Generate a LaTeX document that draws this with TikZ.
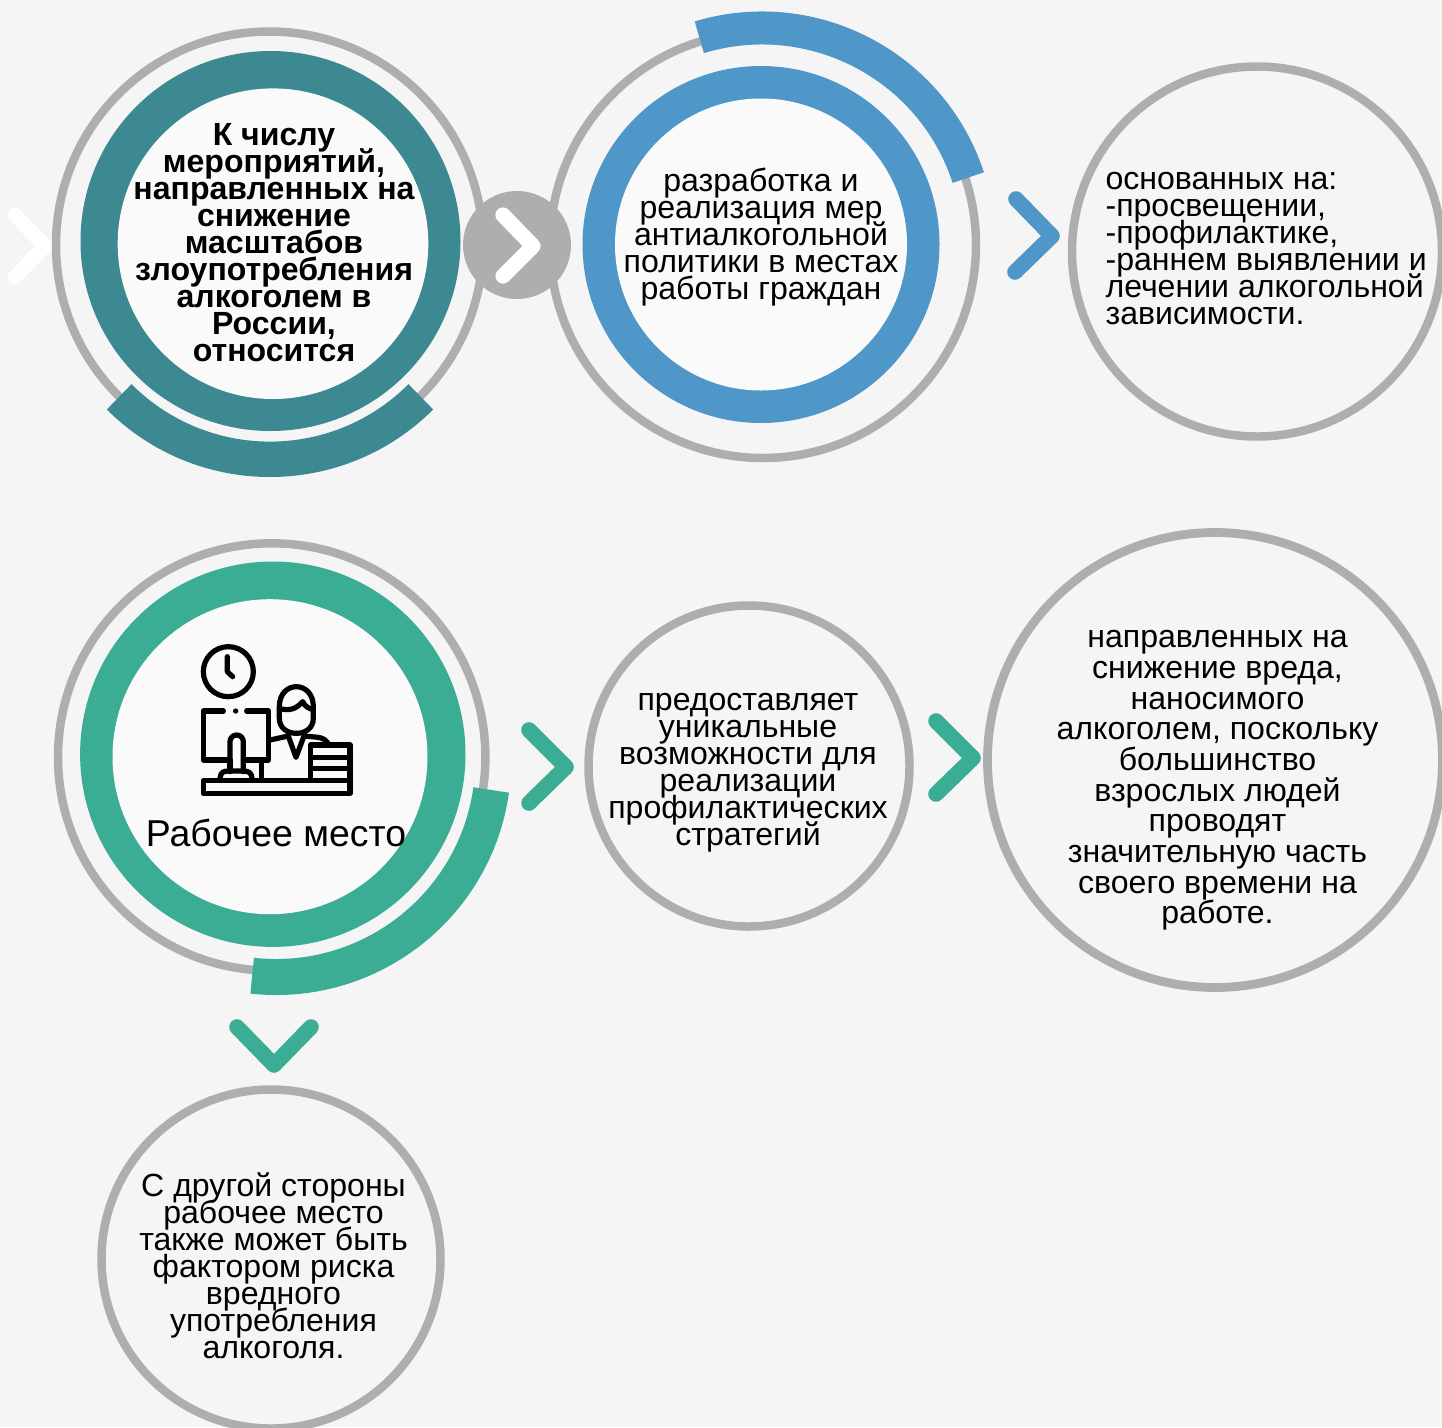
\documentclass[tikz,border=0pt]{standalone}
\usepackage{fontspec}
\setmainfont{Liberation Sans}
\setlength{\lineskiplimit}{-20pt}
\definecolor{bggray}{HTML}{F5F5F5}
\definecolor{inner}{HTML}{FAFAFA}
\definecolor{ringgray}{HTML}{ADAEB0}
\definecolor{teal1}{HTML}{3C8992}
\definecolor{blue1}{HTML}{4E97C8}
\definecolor{green1}{HTML}{3BAD94}
\tikzset{
  halo/.style={draw=ringgray,line width=0.106cm},
  chev/.style={line width=0.195cm,line cap=round,line join=round},
  sweep/.style={line width=#1*0.0125cm},
  say/.style={align=center,inner sep=0pt,font=\fontsize{11.4}{9.6}\selectfont},
  icon/.style={draw=black,line width=0.065cm,line join=round,line cap=round},
}
\begin{document}
\begin{tikzpicture}[x=0.0125cm,y=-0.0125cm]
  \path[use as bounding box,clip] (0,0) rectangle (1442,1427);
  \fill[bggray] (0,0) rectangle (1442,1427);

  %% Top row
  \draw[white,chev,line width=0.18cm] (15,215) -- (45,246) -- (15,277);
  \draw[halo] (269.5,245) circle (213.5);
  \fill[teal1] (270.5,241) circle (190);
  \fill[inner] (273,243.7) circle (155.3);
  \draw[teal1,sweep=35.4] (270,246)+(135:213.3) arc (135:45:213.3);
  \node[say,font=\fontsize{11.4}{9.6}\selectfont\bfseries] (reduce) at (274,243)
    {К числу\\мероприятий,\\направленных на\\снижение\\масштабов\\злоупотребления\\алкоголем в\\России,\\относится};

  \draw[halo] (763,245) circle (213);
  \fill[blue1] (761,244.5) circle (178.5);
  \fill[inner] (761,244.5) circle (146);
  \draw[blue1,sweep=33] (762,245)+(-106.8:217) arc (-106.8:-18.1:217);
  \node[say] (policy) at (761,237)
    {разработка и\\реализация мер\\антиалкогольной\\политики в местах\\работы граждан};

  \fill[ringgray] (517,245) circle (54);
  \draw[white,chev,line width=0.19cm] (503,215) -- (533,246) -- (503,276);

  \draw[blue1,chev] (1016,199) -- (1052,236) -- (1015,272);
  \draw[halo] (1257,251.5) circle (185);
  \node[say,align=left,anchor=west] (based) at (1105,249)
    {основанных на:\\-просвещении,\\-профилактике,\\-раннем выявлении и\\лечении алкогольной\\зависимости.};

  %% Bottom row
  \draw[halo] (271.7,757) circle (213.7);
  \fill[green1] (272.8,754.2) circle (192.7);
  \fill[inner] (270,756.7) circle (157.5);
  \draw[green1,sweep=36] (276,759.7)+(8:217.3) arc (8:96.3:217.3);

  %% Icon
  \begin{scope}[shift={(180,630)},scale=1/3]
    \draw[icon] (145,125) circle (75);
    \draw[icon] (142,80) -- (142,125) -- (158,140);
    \draw[icon] (130,243) -- (70,243) -- (70,390) -- (150,390);
    \draw[icon] (200,243) -- (265,243) -- (265,390) -- (190,390);
    \fill (167,243) circle (8);
    \draw[icon] (150,390) -- (150,335) arc (180:360:20) -- (190,425);
    \draw[icon] (150,390) -- (150,425);
    \draw[icon] (120,445) .. controls (122,425) and (130,423) .. (150,423) -- (190,423) .. controls (208,423) and (215,430) .. (216,445);
    \draw[icon] (245,390) -- (245,450);
    \draw[icon] (70,452) rectangle (510,490);
    \draw[icon] (298,230) .. controls (298,150) and (400,150) .. (400,230) -- (400,265)
      .. controls (400,295) and (375,310) .. (349,310) .. controls (323,310) and (298,295) .. (298,265) -- cycle;
    \draw[icon] (298,235) .. controls (330,245) and (350,235) .. (368,215) .. controls (375,230) and (390,238) .. (400,238);
    \draw[icon] (270,330) -- (325,318) -- (348,382) -- (372,318) -- (415,322) .. controls (430,325) and (440,330) .. (446,345);
    \draw[icon] (392,450) -- (392,345) -- (510,345) -- (510,450);
    \draw[icon] (392,382) -- (510,382);
    \draw[icon] (392,416) -- (510,416);
  \end{scope}
  \node[say,font=\fontsize{13.3}{15}\selectfont] (workplace) at (276,833) {Рабочее место};

  \draw[green1,chev] (529,730) -- (566,767) -- (529,803);
  \draw[halo] (749,766) circle (160.5);
  \node[say] (offers) at (748,773)
    {предоставляет\\уникальные\\возможности для\\реализации\\профилактических\\стратегий};

  \draw[green1,chev] (936,721) -- (973,758) -- (936,794);
  \draw[halo,line width=0.11cm] (1215,760) circle (227.5);
  \node[say,font=\fontsize{11.4}{10.9}\selectfont] (harm) at (1217.5,780.5)
    {направленных на\\снижение вреда,\\наносимого\\алкоголем, поскольку\\большинство\\взрослых людей\\проводят\\значительную часть\\своего времени на\\работе.};

  \draw[green1,chev] (237,1027) -- (274,1065) -- (311,1027);
  \draw[halo] (271,1259) circle (169.5);
  \node[say] (risk) at (273.5,1265.5)
    {С другой стороны\\рабочее место\\также может быть\\фактором риска\\вредного\\употребления\\алкоголя.};
\end{tikzpicture}
\end{document}
